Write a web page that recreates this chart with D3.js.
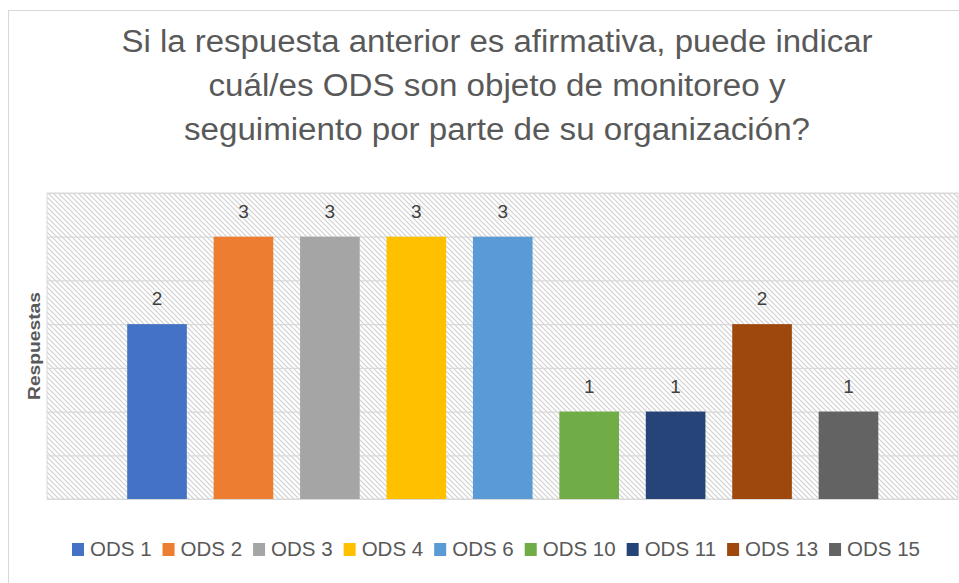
<!DOCTYPE html>
<html>
<head>
<meta charset="utf-8">
<script src="https://cdn.jsdelivr.net/npm/d3@7"></script>
<style>
  html, body { margin: 0; padding: 0; background: #ffffff; }
  svg { display: block; }
</style>
</head>
<body>
<div id="chart"></div>
<script>
// ---- Data ----
const titleLines = [
  "Si la respuesta anterior es afirmativa, puede indicar",
  "cuál/es ODS son objeto de monitoreo y",
  "seguimiento por parte de su organización?"
];
const categories = ["ODS 1", "ODS 2", "ODS 3", "ODS 4", "ODS 6", "ODS 10", "ODS 11", "ODS 13", "ODS 15"];
const values = [2, 3, 3, 3, 3, 1, 1, 2, 1];
const colors = ["#4472C4", "#ED7D31", "#A5A5A5", "#FFC000", "#5B9BD5", "#70AD47", "#264478", "#9E480E", "#636363"];
const yGridTicks = [0, 0.5, 1, 1.5, 2, 2.5, 3, 3.5];
const yAxisTitle = "Respuestas";

// ---- Layout ----
const W = 959, H = 583;
const plot = { left: 47, right: 958, top: 193, bottom: 499 };
const textColor = "#595959";

const svg = d3.select("#chart").append("svg")
  .attr("width", W).attr("height", H);

// hatch pattern
const defs = svg.append("defs");
const pat = defs.append("pattern")
  .attr("id", "hatch").attr("patternUnits", "userSpaceOnUse")
  .attr("width", 5).attr("height", 5);
pat.append("rect").attr("width", 5).attr("height", 5).attr("fill", "#ffffff");
pat.append("path")
  .attr("d", "M-1,-1 L6,6 M-1,4 L1,6 M4,-1 L6,1")
  .attr("stroke", "#d0d0d0").attr("stroke-width", 1.1);

// chart border
svg.append("rect")
  .attr("x", 8.5).attr("y", 10.5).attr("width", W).attr("height", H)
  .attr("fill", "none").attr("stroke", "#d9d9d9");

// title
const titleBaselines = [52, 96, 140];
const titleWidths = [751, 577, 626];
svg.append("g").selectAll("text").data(titleLines).join("text")
  .attr("x", 497).attr("y", (d, i) => titleBaselines[i])
  .attr("text-anchor", "middle")
  .attr("font-family", "'Liberation Sans Narrow', 'Liberation Sans', Arial, sans-serif")
  .attr("font-size", 31)
  .attr("fill", textColor)
  .attr("textLength", (d, i) => titleWidths[i])
  .attr("lengthAdjust", "spacingAndGlyphs")
  .text(d => d);

// scales
const x = d3.scaleBand().domain(categories).range([113.8, 891.7])
  .paddingInner(0.31).paddingOuter(0.155);
const y = d3.scaleLinear().domain([0, 3.5]).range([plot.bottom, plot.top]);

// plot background
svg.append("rect")
  .attr("x", plot.left).attr("y", plot.top)
  .attr("width", plot.right - plot.left).attr("height", plot.bottom - plot.top)
  .attr("fill", "url(#hatch)").attr("stroke", "#d9d9d9");

// gridlines
const yAxis = d3.axisLeft(y).tickValues(yGridTicks)
  .tickSize(-(plot.right - plot.left)).tickFormat("");
const gy = svg.append("g").attr("transform", `translate(${plot.left},0)`).call(yAxis);
gy.select(".domain").remove();
gy.selectAll(".tick line").attr("stroke", "#d9d9d9").attr("stroke-width", 1.2);

// bars
svg.append("g").selectAll("rect").data(values).join("rect")
  .attr("x", (d, i) => x(categories[i]))
  .attr("y", d => y(d))
  .attr("width", x.bandwidth())
  .attr("height", d => y(0) - y(d))
  .attr("fill", (d, i) => colors[i]);

// data labels
svg.append("g").selectAll("text").data(values).join("text")
  .attr("x", (d, i) => x(categories[i]) + x.bandwidth() / 2)
  .attr("y", d => y(d) - 19)
  .attr("text-anchor", "middle")
  .attr("font-family", "'Liberation Sans Narrow', 'Liberation Sans', Arial, sans-serif")
  .attr("font-size", 19)
  .attr("fill", "#404040")
  .text(d => d);

// y axis title
svg.append("text")
  .attr("transform", `translate(40,346) rotate(-90)`)
  .attr("text-anchor", "middle")
  .attr("font-family", "'Liberation Sans', Arial, sans-serif")
  .attr("font-size", 17).attr("font-weight", "bold")
  .attr("fill", textColor)
  .attr("textLength", 108).attr("lengthAdjust", "spacingAndGlyphs")
  .text(yAxisTitle);

// legend
const legend = svg.append("g");
const items = legend.selectAll("g").data(categories).join("g");
items.append("rect")
  .attr("width", 12).attr("height", 13).attr("y", 543)
  .attr("fill", (d, i) => colors[i]);
const ltexts = items.append("text")
  .attr("x", 18).attr("y", 556)
  .attr("font-family", "'Liberation Sans', Arial, sans-serif")
  .attr("font-size", 20)
  .attr("fill", textColor)
  .text(d => d);
// fit legend to span the same width as the original (≈72 to ≈920)
const natural = [];
ltexts.each(function() { natural.push(this.getComputedTextLength()); });
const legendStart = 72, legendEnd = 920, sqGap = 18, itemGap = 11;
const fixed = categories.length * sqGap + (categories.length - 1) * itemGap;
const k = (legendEnd - legendStart - fixed) / d3.sum(natural);
ltexts.attr("textLength", (d, i) => natural[i] * k).attr("lengthAdjust", "spacingAndGlyphs");
let cx = legendStart;
const offsets = natural.map(w => { const o = cx; cx += sqGap + w * k + itemGap; return o; });
items.attr("transform", (d, i) => `translate(${offsets[i]},0)`);
</script>
</body>
</html>
